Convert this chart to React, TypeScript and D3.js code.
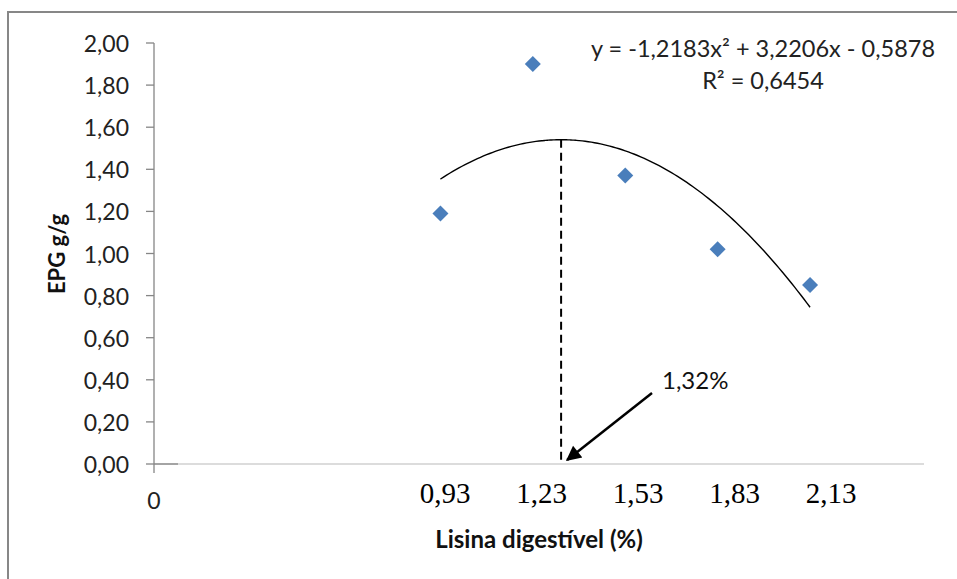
import React from "react";
import * as d3 from "d3";

// lisina digestivel (%) vs EPG g/g
const lysine = [0.93, 1.23, 1.53, 1.83, 2.13];
const epg = [1.19, 1.9, 1.37, 1.02, 0.85];
const yTicks = [0, 0.2, 0.4, 0.6, 0.8, 1.0, 1.2, 1.4, 1.6, 1.8, 2.0];
const xTickLabels = ["0,93", "1,23", "1,53", "1,83", "2,13"];
// quadratic trend line shown on the chart
const coefA = -1.2183;
const coefB = 3.2206;
const coefC = -0.5878;
const equationLabel = "y = -1,2183x² + 3,2206x - 0,5878";
const r2Label = "R² = 0,6454";
const optimumLabel = "1,32%";

const sans = "Lato, 'Open Sans', sans-serif";
const serif = "'Liberation Serif', 'Times New Roman', serif";

export default function App() {
  const width = 957;
  const height = 579;

  const x = d3.scaleLinear().domain([0, 2.5]).range([154, 924]);
  const y = d3.scaleLinear().domain([0, 2]).range([464, 43]);
  // the x tick labels sit in their own text boxes, a bit right of the points
  const xLabel = d3.scaleLinear().domain([0.93, 2.13]).range([445, 831]);

  const trend = (v: number) => coefA * v * v + coefB * v + coefC;
  const curveXs = d3.range(lysine[0], lysine[lysine.length - 1] + 0.001, 0.01);
  const line = d3
    .line<number>()
    .x((d) => x(d))
    .y((d) => y(trend(d)))
    .curve(d3.curveBasis);

  const xOpt = -coefB / (2 * coefA);
  const yOpt = trend(xOpt);

  const fmt = (v: number) => v.toFixed(2).replace(".", ",");

  const arrowStart = { px: 652, py: 393 };
  const arrowEnd = { px: x(xOpt) + 6, py: y(0) - 4 };

  return (
    <svg
      width={width}
      height={height}
      style={{ position: "absolute", left: 0, top: 0, background: "#fff" }}
    >
      <defs>
        <marker
          id="arrowHead"
          viewBox="0 0 10 10"
          refX="9"
          refY="5"
          markerWidth="7.5"
          markerHeight="6"
          orient="auto"
          markerUnits="strokeWidth"
        >
          <path d="M0,0 L10,5 L0,10 z" fill="#000" />
        </marker>
      </defs>

      {/* outer frame */}
      <rect x={8} y={12} width={980} height={600} fill="none" stroke="#878787" strokeWidth={2} />

      {/* x axis */}
      <line x1={x(0)} x2={924} y1={y(0)} y2={y(0)} stroke="#d0d0d0" strokeWidth={1.3} />
      <line x1={x(0)} x2={178} y1={y(0)} y2={y(0)} stroke="#868686" strokeWidth={1.3} />

      {/* y axis */}
      <line x1={x(0)} x2={x(0)} y1={y(2)} y2={y(0) + 9} stroke="#868686" strokeWidth={1.3} />
      {yTicks.map((t) => (
        <g key={t}>
          <line x1={x(0) - 8} x2={x(0)} y1={y(t)} y2={y(t)} stroke="#868686" strokeWidth={1.3} />
          <text
            x={129}
            y={y(t)}
            textAnchor="end"
            dominantBaseline="central"
            fontFamily={sans}
            fontSize={23}
            fill="#222"
          >
            {fmt(t)}
          </text>
        </g>
      ))}

      <text x={x(0)} y={500} textAnchor="middle" dominantBaseline="central" fontFamily={sans} fontSize={23} fill="#222">
        0
      </text>

      {xTickLabels.map((l, i) => (
        <text
          key={l}
          x={xLabel(lysine[i])}
          y={503}
          textAnchor="middle"
          fontFamily={serif}
          fontSize={29}
          fill="#000"
        >
          {l}
        </text>
      ))}

      {/* axis titles */}
      <text x={539} y={548} textAnchor="middle" fontFamily={sans} fontWeight="bold" fontSize={24} fill="#111">
        Lisina digestível (%)
      </text>
      <text
        transform={`translate(65,254) rotate(-90)`}
        textAnchor="middle"
        fontFamily={sans}
        fontWeight="bold"
        fontSize={22}
        fill="#111"
      >
        EPG g/g
      </text>

      {/* trend line */}
      <path d={line(curveXs) ?? ""} fill="none" stroke="#000" strokeWidth={1.4} />

      {/* optimum marker */}
      <line
        x1={x(xOpt)}
        x2={x(xOpt)}
        y1={y(yOpt)}
        y2={y(0)}
        stroke="#000"
        strokeWidth={2}
        strokeDasharray="8,5"
      />

      {/* points */}
      {lysine.map((v, i) => (
        <path
          key={v}
          d={`M${x(v)},${y(epg[i]) - 8} L${x(v) + 8},${y(epg[i])} L${x(v)},${y(epg[i]) + 8} L${x(v) - 8},${y(epg[i])} Z`}
          fill="#4a7ebb"
        />
      ))}

      {/* equation */}
      <text x={763} y={57} textAnchor="middle" fontFamily={sans} fontSize={23.5} fill="#222">
        {equationLabel}
      </text>
      <text x={763} y={89} textAnchor="middle" fontFamily={sans} fontSize={23.5} fill="#222">
        {r2Label}
      </text>

      {/* annotation */}
      <text x={662} y={389} fontFamily={sans} fontSize={24} fill="#111">
        {optimumLabel}
      </text>
      <line
        x1={arrowStart.px}
        y1={arrowStart.py}
        x2={arrowEnd.px}
        y2={arrowEnd.py}
        stroke="#000"
        strokeWidth={2.5}
        markerEnd="url(#arrowHead)"
      />
    </svg>
  );
}
